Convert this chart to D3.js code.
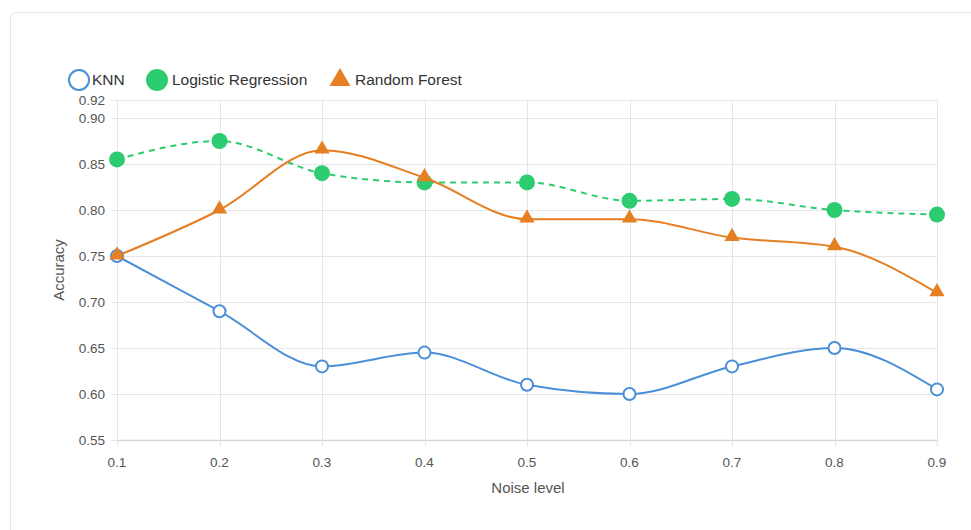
<!DOCTYPE html>
<html><head><meta charset="utf-8">
<script src="https://cdn.jsdelivr.net/npm/d3@7"></script>
<style>body{margin:0;background:#fff;font-family:"Liberation Sans",Arial,sans-serif;}</style>
</head><body><svg id="c" width="971" height="530"></svg>
<script>
const categories = [0.1,0.2,0.3,0.4,0.5,0.6,0.7,0.8,0.9];
const knn = [0.75,0.69,0.63,0.645,0.61,0.60,0.63,0.65,0.605];
const logreg = [0.855,0.875,0.84,0.83,0.83,0.81,0.812,0.80,0.795];
const rforest = [0.75,0.80,0.865,0.835,0.79,0.79,0.77,0.76,0.71];
const yTicks = [0.55,0.60,0.65,0.70,0.75,0.80,0.85,0.90,0.92];
const seriesNames = ["KNN","Logistic Regression","Random Forest"];
const colors = ["#4a8fd8","#2ecc71","#e67e22"];

const svg = d3.select("#c");
svg.append("rect").attr("x",10.5).attr("y",12.5).attr("width",1000).attr("height",600)
  .attr("rx",6).attr("fill","#fff").attr("stroke","#e4e4e4");

const x = d3.scaleLinear().domain([0.1,0.9]).range([117,937]);
const y = d3.scaleLinear().domain([0.55,0.92]).range([440,99.6]);

const g = svg.append("g");
g.selectAll(".hg").data(yTicks).join("line")
  .attr("x1",111).attr("x2",937).attr("y1",d=>Math.round(y(d))+0.5).attr("y2",d=>Math.round(y(d))+0.5)
  .attr("stroke","#e6e6e6");
g.selectAll(".vg").data(categories).join("line")
  .attr("x1",d=>Math.round(x(d))+0.5).attr("x2",d=>Math.round(x(d))+0.5)
  .attr("y1",99.6).attr("y2",446).attr("stroke","#e6e6e6");
g.append("line").attr("x1",117).attr("x2",937).attr("y1",440.5).attr("y2",440.5).attr("stroke","#d6d6d6").attr("stroke-width",1.5);

g.selectAll(".yl").data(yTicks).join("text")
  .attr("x",105).attr("y",d=>y(d)+5).attr("text-anchor","end")
  .attr("font-size",13.5).attr("fill","#555").text(d=>d.toFixed(2));
g.selectAll(".xl").data(categories).join("text")
  .attr("x",d=>x(d)).attr("y",467).attr("text-anchor","middle")
  .attr("font-size",13.5).attr("fill","#555").text(d=>d.toFixed(1));

svg.append("text").attr("x",528).attr("y",493).attr("text-anchor","middle")
  .attr("font-size",15).attr("fill","#555").text("Noise level");
svg.append("text").attr("transform","translate(64,270) rotate(-90)").attr("text-anchor","middle")
  .attr("font-size",15).attr("fill","#555").text("Accuracy");

const line = d3.line().x((d,i)=>x(categories[i])).y(d=>y(d)).curve(d3.curveMonotoneX);

// KNN
svg.append("path").attr("d",line(knn)).attr("fill","none").attr("stroke",colors[0]).attr("stroke-width",2);
svg.selectAll(".kn").data(knn).join("circle")
  .attr("cx",(d,i)=>x(categories[i])).attr("cy",d=>y(d)).attr("r",6).attr("fill","#fff").attr("stroke",colors[0]).attr("stroke-width",2);
// LR
svg.append("path").attr("d",line(logreg)).attr("fill","none").attr("stroke",colors[1]).attr("stroke-width",2).attr("stroke-dasharray","6,5");
svg.selectAll(".lr").data(logreg).join("circle")
  .attr("cx",(d,i)=>x(categories[i])).attr("cy",d=>y(d)).attr("r",8).attr("fill",colors[1]);
// RF
svg.append("path").attr("d",line(rforest)).attr("fill","none").attr("stroke",colors[2]).attr("stroke-width",2);
const tri = d3.symbol().type(d3.symbolTriangle).size(100);
svg.selectAll(".rf").data(rforest).join("path")
  .attr("d",tri).attr("transform",(d,i)=>`translate(${x(categories[i])},${y(d)-1})`).attr("fill",colors[2]);

// legend
const lg = svg.append("g");
lg.append("circle").attr("cx",79).attr("cy",80).attr("r",10).attr("fill","#fff").attr("stroke",colors[0]).attr("stroke-width",2);
lg.append("text").attr("x",92).attr("y",85).attr("font-size",15.5).attr("fill","#333").text(seriesNames[0]);
lg.append("circle").attr("cx",157).attr("cy",80).attr("r",11).attr("fill",colors[1]);
lg.append("text").attr("x",172).attr("y",85).attr("font-size",15.5).attr("fill","#333").text(seriesNames[1]);
lg.append("path").attr("d",d3.symbol().type(d3.symbolTriangle).size(190)).attr("transform","translate(340,80)").attr("fill",colors[2]);
lg.append("text").attr("x",355).attr("y",85).attr("font-size",15.5).attr("fill","#333").text(seriesNames[2]);
</script></body></html>
